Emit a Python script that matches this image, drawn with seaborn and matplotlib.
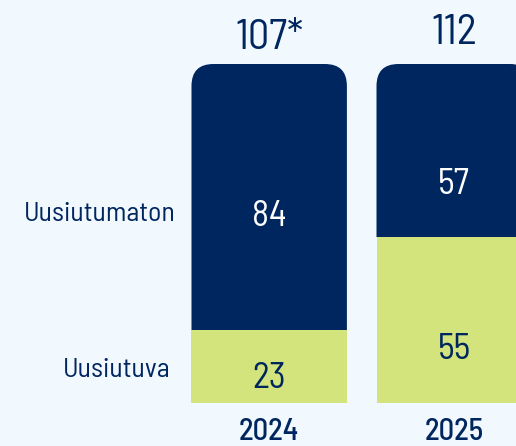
import numpy as np
import pandas as pd
import seaborn as sns
import matplotlib
matplotlib.use("Agg")
import matplotlib.pyplot as plt
from matplotlib.patches import FancyBboxPatch, Rectangle

# data
years = ["2024", "2025"]
uusiutuva = [23, 55]
uusiutumaton = [84, 57]
total_marks = ["*", ""]
series_names = ["Uusiutumaton", "Uusiutuva"]

# colours
navy = "#00265f"
lime = "#d3e47c"
bg = "#f1f8fe"

# label placement (y in share of total, x in category units)
value_y_top = [0.523, 0.617]
value_y_bottom = [0.046, 0.131]
total_y = [1.044, 1.059]
name_x = [-0.504, -0.535]
name_y = [0.538, 0.078]
year_y = -0.108

df = pd.DataFrame({"vuosi": years, "uusiutuva": uusiutuva, "uusiutumaton": uusiutumaton})
df["yhteensa"] = df["uusiutuva"] + df["uusiutumaton"]
df["osuus_uusiutuva"] = df["uusiutuva"] / df["yhteensa"]
df["osuus_kaikki"] = df["yhteensa"] / df["yhteensa"]

sns.set_theme(style="white")
label_font = ["Barlow Semi Condensed", "Roboto", "DejaVu Sans"]
total_font = ["Barlow Semi Condensed", "Roboto", "Liberation Sans"]

dpi = 100
fig = plt.figure(figsize=(516 / dpi, 446 / dpi), dpi=dpi, facecolor=bg)
ax = fig.add_axes([0, 0, 1, 1])
ax.set_facecolor(bg)

bar_w = 0.84
sns.barplot(data=df, x="vuosi", y="osuus_kaikki", color=navy, saturation=1,
            width=bar_w, linewidth=0, ax=ax)
n_top = len(ax.patches)
sns.barplot(data=df, x="vuosi", y="osuus_uusiutuva", color=lime, saturation=1,
            width=bar_w, linewidth=0, ax=ax)

xlim = (-1.455, 1.334)
ylim = (-0.1258, 1.1886)
ax.set_xlim(xlim)
ax.set_ylim(ylim)

# navy bars: rounded top corners, clipped to the part above the lime bar
px_x = 516 / (xlim[1] - xlim[0])
px_y = 446 / (ylim[1] - ylim[0])
r = 22 / px_x
for p, low in zip(ax.patches[:n_top], df["osuus_uusiutuva"]):
    p.set_visible(False)
    box = FancyBboxPatch((p.get_x(), p.get_y()), p.get_width(), p.get_height(),
                         boxstyle=f"round,pad=0,rounding_size={r}",
                         mutation_aspect=px_x / px_y, fc=navy, ec="none",
                         zorder=p.get_zorder())
    ax.add_patch(box)
    clip = Rectangle((p.get_x() - 0.1, low), p.get_width() + 0.2, 2,
                     transform=ax.transData)
    box.set_clip_path(clip)

for i, row in df.iterrows():
    ax.text(i, value_y_top[i], str(row["uusiutumaton"]), ha="center", va="baseline",
            color="white", fontsize=26, family=label_font)
    ax.text(i, value_y_bottom[i], str(row["uusiutuva"]), ha="center", va="baseline",
            color=navy, fontsize=26, family=label_font)
    ax.text(i, total_y[i], f"{row['yhteensa']}{total_marks[i]}", ha="center", va="baseline",
            color=navy, fontsize=30.5, family=total_font)
    ax.text(i, year_y, row["vuosi"], ha="center", va="baseline",
            color=navy, fontsize=22, fontweight="medium", family=label_font)

for j, name in enumerate(series_names):
    ax.text(name_x[j], name_y[j], name, ha="right", va="baseline",
            color=navy, fontsize=20, family=label_font)

ax.axis("off")
fig.savefig("out.png", dpi=dpi, facecolor=bg)
